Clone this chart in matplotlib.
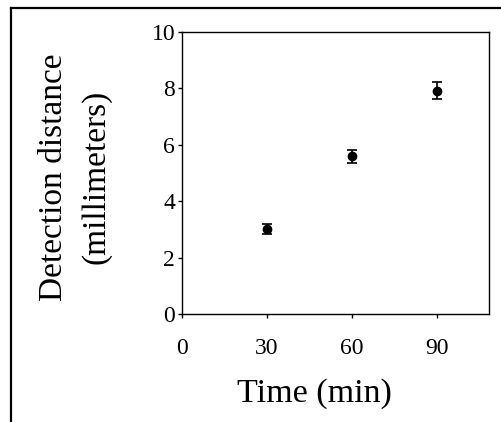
import numpy as np
import matplotlib
matplotlib.use("Agg")
import matplotlib.pyplot as plt
from matplotlib.lines import Line2D

plt.rcParams["font.family"] = ["Liberation Serif", "DejaVu Serif"]

time_min = [30, 60, 90]
distance_mm = [3.02, 5.59, 7.91]
err_mm = [0.17, 0.24, 0.30]
x_ticks = [0, 30, 60, 90]
y_ticks = [0, 2, 4, 6, 8, 10]

W, H = 501, 422
fig = plt.figure(figsize=(W / 100, H / 100), dpi=100)
ax = fig.add_axes([182 / W, 1 - 314 / H, (489 - 182) / W, (314 - 32) / H])

ax.errorbar(time_min, distance_mm, yerr=err_mm, fmt="o", color="black",
            markersize=6, capsize=3.5, elinewidth=1.2, capthick=1.2)

ax.set_xlim(0, 108.4)
ax.set_ylim(0, 10)
ax.set_xticks(x_ticks)
ax.set_yticks(y_ticks)
ax.tick_params(axis="both", direction="out", length=3, width=1, labelsize=17)
ax.tick_params(axis="x", pad=14)
ax.tick_params(axis="y", pad=2)
for s in ax.spines.values():
    s.set_linewidth(1)

fig.text(314 / W, 1 - 394 / H, "Time (min)", ha="center", va="center", fontsize=24.5)
fig.text(75 / W, 1 - 177 / H, "Detection distance\n(millimeters)", ha="center",
         va="center", rotation=90, fontsize=24, linespacing=1.5)

# outer frame: top and left edges only
fig.add_artist(Line2D([11 / W, 1], [1 - 8 / H, 1 - 8 / H], color="black", lw=1.6,
                      transform=fig.transFigure))
fig.add_artist(Line2D([11 / W, 11 / W], [0, 1 - 8 / H], color="black", lw=1.6,
                      transform=fig.transFigure))

fig.savefig("out.png", dpi=100)
